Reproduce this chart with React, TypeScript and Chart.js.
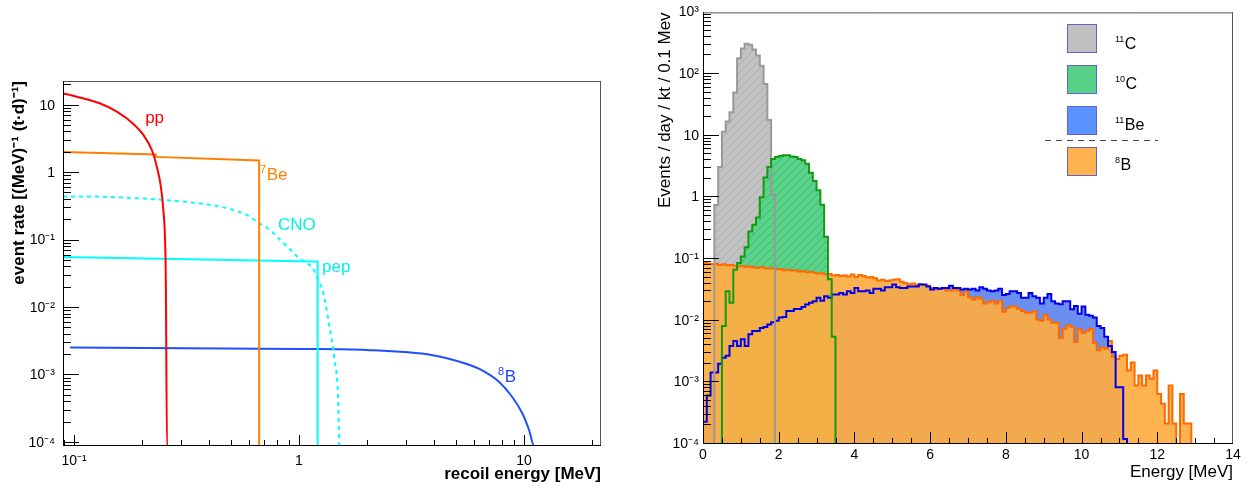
import React, { useEffect, useRef } from 'react';
import { Chart, registerables } from 'chart.js';

Chart.register(...registerables);

const FONT = "'Liberation Sans', Arial, Helvetica, sans-serif";

// ---------------- Left panel: recoil spectra (MeV, events/(MeV t d)) ----------------
const ppEnergy = [0.0893, 0.0929, 0.13, 0.1549, 0.1837, 0.2034, 0.2217, 0.2329, 0.2432, 0.2493, 0.2541, 0.2558, 0.259, 0.665];
const ppRate = [15.2, 14.75, 10.85, 8.15, 5.35, 3.68, 2.2, 1.28, 0.63, 0.288, 0.093, 0.0263, 0.00009, 0.00009];

const be7Energy = [0.0893, 0.0893, 0.231, 0.231, 0.665, 0.665, 1.21];
const be7Rate = [0.00009, 2.05, 1.89, 1.74, 1.54, 0.00009, 0.00009];

const cnoEnergy = [0.0893, 0.12, 0.15, 0.2, 0.25, 0.3, 0.4, 0.5, 0.6, 0.65, 0.75, 0.83, 0.92, 1.0, 1.1, 1.15, 1.2, 1.28, 1.37, 1.44, 1.49, 1.51];
const cnoRate = [0.45, 0.45, 0.44, 0.42, 0.4, 0.38, 0.34, 0.29, 0.23, 0.19, 0.14, 0.1, 0.072, 0.055, 0.045, 0.039, 0.029, 0.017, 0.005, 0.0017, 0.0005, 0.00009];

const pepEnergy = [0.0893, 0.0893, 1.18, 1.21, 1.21, 22];
const pepRate = [0.00009, 0.057, 0.049, 0.049, 0.00009, 0.00009];

const b8Energy = [0.096, 1.01, 1.99, 3.93, 5.53, 6.55, 7.76, 8.87, 9.83, 10.54, 11.1, 22];
const b8Rate = [0.0026, 0.00247, 0.00239, 0.002, 0.00149, 0.00118, 0.0008, 0.00048, 0.000275, 0.000155, 0.00009, 0.00009];

const leftXDecades = [-1, 0, 1];
const leftYDecades = [-4, -3, -2, -1, 0, 1];

// ---------------- Right panel: histograms, 0.1 MeV bins ----------------
const binWidth = 0.1;
const c11FirstBin = 3;
const c11Counts = [0.75, 3.1, 11.6, 17, 24, 50, 180, 260, 310, 300, 250, 200, 137, 69, 18, 1.1];
const c10FirstBin = 5;
const c10Counts = [0.0082, 0.03, 0.0195, 0.067, 0.086, 0.11, 0.155, 0.28, 0.36, 0.47, 1.0, 2.1, 3.1, 4.2, 4.5, 4.7, 4.8, 4.8, 4.6, 4.5, 4.2, 4.0, 3.5, 2.5, 1.85, 1.3, 0.76, 0.23, 0.047, 0.0055];
const be11FirstBin = 0;
const be11Counts = [
  2.3e-4, 6.1e-4, 1.45e-3, 1.45e-3, 2.0e-3, 2.5e-3, 2.7e-3, 3.9e-3, 4.7e-3, 3.9e-3,
  5.0e-3, 3.9e-3, 6.0e-3, 6.8e-3, 6.8e-3, 7.6e-3, 7.9e-3, 8.7e-3, 9.4e-3, 0.01,
  0.0113, 0.0115, 0.0144, 0.0144, 0.0154, 0.0154, 0.0166, 0.0183, 0.0195, 0.0207,
  0.0235, 0.021, 0.025, 0.0235, 0.0266, 0.0266, 0.028, 0.0266, 0.03, 0.028,
  0.034, 0.03, 0.03, 0.031, 0.028, 0.033, 0.033, 0.031, 0.035, 0.035,
  0.0385, 0.035, 0.034, 0.034, 0.036, 0.036, 0.036, 0.0385, 0.0385, 0.036,
  0.032, 0.034, 0.033, 0.034, 0.034, 0.037, 0.034, 0.034, 0.032, 0.033,
  0.032, 0.033, 0.031, 0.035, 0.033, 0.031, 0.03, 0.031, 0.033, 0.026,
  0.027, 0.03, 0.03, 0.028, 0.0235, 0.0235, 0.028, 0.025, 0.0235, 0.019,
  0.0235, 0.027, 0.0207, 0.019, 0.0185, 0.0207, 0.0207, 0.0153, 0.0173, 0.013,
  0.017, 0.0125, 0.012, 0.0113, 0.0082, 0.0076, 0.0055, 0.0039, 0.0031, 0.00083,
  0.00083, 0.00012,
];
const b8FirstBin = 0;
const b8Counts = [
  0.086, 0.085, 0.083, 0.084, 0.08, 0.082, 0.079, 0.08, 0.078, 0.076,
  0.077, 0.075, 0.076, 0.073, 0.072, 0.074, 0.071, 0.07, 0.071, 0.068,
  0.069, 0.066, 0.067, 0.065, 0.066, 0.063, 0.064, 0.061, 0.062, 0.06,
  0.058, 0.059, 0.056, 0.057, 0.054, 0.055, 0.053, 0.054, 0.052, 0.056,
  0.051, 0.055, 0.053, 0.05, 0.051, 0.049, 0.045, 0.046, 0.044, 0.045,
  0.046, 0.047, 0.043, 0.041, 0.039, 0.04, 0.038, 0.039, 0.038, 0.037,
  0.034, 0.032, 0.033, 0.033, 0.031, 0.031, 0.032, 0.031, 0.026, 0.03,
  0.024, 0.022, 0.024, 0.023, 0.019, 0.02, 0.021, 0.019, 0.021, 0.014,
  0.016, 0.017, 0.017, 0.0155, 0.0143, 0.0135, 0.0135, 0.0143, 0.0105, 0.01,
  0.0125, 0.0105, 0.0093, 0.0093, 0.0052, 0.0073, 0.0085, 0.008, 0.0045, 0.0073,
  0.0064, 0.0068, 0.0073, 0.0044, 0.0033, 0.0037, 0.0035, 0.0047, 0.0026, 0.0024,
  0.0027, 0.0028, 0.00155, 0.0021, 0.00089, 0.00129, 0.00089, 0.00129, 0.00114, 0.00155,
  0.00065, 0.00045, 0.000215, 0.00089, 0.000215, 0, 0.00065, 0.000215, 0.000215,
];
const isotopeMass = ['11', '10', '11', '8'];
const isotopeSymbol = ['C', 'C', 'Be', 'B'];
const rightYDecades = [-4, -3, -2, -1, 0, 1, 2, 3];
const rightXLabels = [0, 2, 4, 6, 8, 10, 12, 14];

// ---------------- helpers ----------------
const SUP: Record<string, string> = { '-': '\u207B', '0': '\u2070', '1': '\u00B9', '2': '\u00B2', '3': '\u00B3', '4': '\u2074', '5': '\u2075', '6': '\u2076', '7': '\u2077', '8': '\u2078', '9': '\u2079' };
const toSup = (s: string) => s.split('').map((c) => SUP[c] ?? c).join('');
const decadeLabel = (e: number) => (e === 0 ? '1' : e === 1 ? '10' : '10' + toSup(String(e)));
const decadeTick = (v: number, decades: number[]) => {
  const l = Math.log10(v);
  const e = Math.round(l);
  return Math.abs(l - e) < 1e-6 && decades.includes(e) ? decadeLabel(e) : '';
};
function logTicks(min: number, max: number) {
  const out: { value: number; major: boolean }[] = [];
  for (let d = Math.floor(Math.log10(min)); d <= Math.ceil(Math.log10(max)); d++) {
    for (let m = 1; m <= 9; m++) {
      const v = m * Math.pow(10, d);
      if (v >= min * (1 - 1e-9) && v <= max * (1 + 1e-9)) out.push({ value: v, major: m === 1 });
    }
  }
  return out;
}
const pts = (xs: number[], ys: number[]) => xs.map((x, i) => ({ x, y: ys[i] }));
const FLOOR = 1e-6;
function histPoints(first: number, counts: number[]) {
  const p: { x: number; y: number }[] = [{ x: first * binWidth, y: FLOOR }];
  counts.forEach((c, i) => p.push({ x: (first + i) * binWidth, y: c > 0 ? c : FLOOR }));
  p.push({ x: (first + counts.length) * binWidth, y: FLOOR });
  return p;
}
function makePattern(base: string, line: string) {
  const c = document.createElement('canvas');
  c.width = 8;
  c.height = 8;
  const g = c.getContext('2d')!;
  g.fillStyle = base;
  g.fillRect(0, 0, 8, 8);
  g.strokeStyle = line;
  g.lineWidth = 1;
  g.beginPath();
  g.moveTo(-1, 9);
  g.lineTo(9, -1);
  g.stroke();
  return g.createPattern(c, 'repeat')!;
}

function frameTicksPlugin(cfg: { xMajor: number; xMinor: number; yMajor: number; yMinor: number }) {
  return {
    id: 'frameTicks',
    afterDatasetsDraw(chart: any) {
      const { ctx, chartArea: a, scales } = chart;
      ctx.save();
      ctx.lineWidth = 1;
      ctx.strokeStyle = '#555';
      ctx.beginPath();
      ctx.moveTo(a.left, a.top + 0.5);
      ctx.lineTo(a.right, a.top + 0.5);
      ctx.moveTo(a.right - 0.5, a.top);
      ctx.lineTo(a.right - 0.5, a.bottom);
      ctx.stroke();
      ctx.strokeStyle = '#000';
      ctx.beginPath();
      ctx.moveTo(a.left + 0.5, a.top);
      ctx.lineTo(a.left + 0.5, a.bottom);
      ctx.moveTo(a.left, a.bottom - 0.5);
      ctx.lineTo(a.right, a.bottom - 0.5);
      for (const t of scales.x.ticks) {
        const px = Math.round(scales.x.getPixelForValue(t.value)) + 0.5;
        if (px < a.left + 1 || px > a.right - 1) continue;
        const len = t.major ? cfg.xMajor : cfg.xMinor;
        ctx.moveTo(px, a.bottom);
        ctx.lineTo(px, a.bottom - len);
      }
      for (const t of scales.y.ticks) {
        const py = Math.round(scales.y.getPixelForValue(t.value)) - 0.5;
        if (py < a.top + 1 || py > a.bottom) continue;
        const len = t.major ? cfg.yMajor : cfg.yMinor;
        ctx.moveTo(a.left, py);
        ctx.lineTo(a.left + len, py);
      }
      ctx.stroke();
      ctx.restore();
    },
  };
}

function drawSupText(ctx: CanvasRenderingContext2D, x: number, base: number, sup: string, main: string, color: string, mainSize: number, supSize: number, raise: number) {
  ctx.fillStyle = color;
  ctx.textAlign = 'left';
  ctx.textBaseline = 'alphabetic';
  let w = 0;
  if (sup) {
    ctx.font = `${supSize}px ${FONT}`;
    ctx.fillText(sup, x, base - raise);
    w = ctx.measureText(sup).width + 0.5;
  }
  ctx.font = `${mainSize}px ${FONT}`;
  ctx.fillText(main, x + w, base);
}

function leftConfig(): any {
  const curveLabels = [
    { e: 0.207, r: 5.55, sup: '', text: 'pp', color: '#ff0000' },
    { e: 0.671, r: 0.787, sup: '7', text: 'Be', color: '#ff8000' },
    { e: 0.806, r: 0.143, sup: '', text: 'CNO', color: '#00f0f0' },
    { e: 1.265, r: 0.0347, sup: '', text: 'pep', color: '#00f0f0' },
    { e: 7.67, r: 0.00081, sup: '8', text: 'B', color: '#1f3fff' },
  ];
  const labelsPlugin = {
    id: 'curveLabels',
    afterDatasetsDraw(chart: any) {
      const { ctx, scales } = chart;
      ctx.save();
      for (const l of curveLabels) {
        const x = scales.x.getPixelForValue(l.e);
        const y = scales.y.getPixelForValue(l.r);
        drawSupText(ctx, x, y, l.sup, l.text, l.color, 17, 11, 7);
      }
      ctx.restore();
    },
  };
  const line = (data: any, color: string, extra: any = {}) => ({
    data,
    showLine: true,
    borderColor: color,
    borderWidth: 2,
    pointRadius: 0,
    fill: false,
    ...extra,
  });
  return {
    type: 'scatter',
    data: {
      datasets: [
        line(pts(ppEnergy, ppRate), '#ff0000', { cubicInterpolationMode: 'monotone' }),
        line(pts(be7Energy, be7Rate), '#ff8000'),
        line(pts(cnoEnergy, cnoRate), '#00ffff', { borderDash: [4, 4], cubicInterpolationMode: 'monotone' }),
        line(pts(pepEnergy, pepRate), '#00ffff'),
        line(pts(b8Energy, b8Rate), '#1f4fff', { cubicInterpolationMode: 'monotone' }),
      ],
    },
    plugins: [frameTicksPlugin({ xMajor: 11, xMinor: 6, yMajor: 16, yMinor: 8 }), labelsPlugin],
    options: {
      responsive: false,
      maintainAspectRatio: false,
      animation: false,
      events: [],
      layout: { padding: { left: 0, right: 19, top: 81, bottom: 0 } },
      plugins: { legend: { display: false }, tooltip: { enabled: false } },
      scales: {
        x: {
          type: 'logarithmic',
          position: 'bottom',
          min: 0.0893,
          max: 22,
          afterBuildTicks: (s: any) => { s.ticks = logTicks(s.min, s.max); },
          afterFit: (s: any) => { s.height = 46; },
          grid: { display: false, drawTicks: false },
          border: { display: false },
          ticks: {
            autoSkip: false, maxRotation: 0, minRotation: 0, padding: 7, color: '#000',
            font: { family: FONT, size: 14 },
            callback: (v: any) => decadeTick(Number(v), leftXDecades),
          },
          title: {
            display: true, text: 'recoil energy [MeV]', align: 'end', color: '#000',
            font: { family: FONT, size: 17, weight: 'bold' }, padding: { top: 0, bottom: 7 },
          },
        },
        y: {
          type: 'logarithmic',
          position: 'left',
          min: 0.00009,
          max: 23.2,
          afterBuildTicks: (s: any) => { s.ticks = logTicks(s.min, s.max); },
          afterFit: (s: any) => { s.width = 63; },
          grid: { display: false, drawTicks: false },
          border: { display: false },
          ticks: {
            autoSkip: false, padding: 8, color: '#000',
            font: { family: FONT, size: 14 },
            callback: (v: any) => decadeTick(Number(v), leftYDecades),
          },
          title: {
            display: true, text: 'event rate [(MeV)\u207B\u00B9 (t\u00B7d)\u207B\u00B9]', align: 'end', color: '#000',
            font: { family: FONT, size: 17, weight: 'bold' }, padding: { top: 9, bottom: 0 },
          },
        },
      },
    },
  };
}

function rightConfig(): any {
  const grayPat = makePattern('#c2c2c2', '#adadad');
  const greenPat = makePattern('#5bd28a', '#40b56f');
  const fillColors = ['#c0c0c0', '#57d187', '#5a93ff', '#ffb34f'];
  const legendPlugin = {
    id: 'isoLegend',
    afterDraw(chart: any) {
      const { ctx } = chart;
      ctx.save();
      const tops = [24, 65, 106, 147];
      const bases = [48.5, 88.5, 129.5, 169.5];
      for (let i = 0; i < 4; i++) {
        ctx.fillStyle = fillColors[i];
        ctx.fillRect(447, tops[i], 30, 29);
        ctx.strokeStyle = '#6262d0';
        ctx.lineWidth = 1;
        ctx.strokeRect(447.5, tops[i] + 0.5, 29, 28);
        drawSupText(ctx, 495, bases[i], isotopeMass[i], isotopeSymbol[i], '#000', 16, 9, 7);
      }
      ctx.strokeStyle = '#444';
      ctx.lineWidth = 1;
      ctx.setLineDash([6, 5]);
      ctx.beginPath();
      ctx.moveTo(425, 140.5);
      ctx.lineTo(538, 140.5);
      ctx.stroke();
      ctx.restore();
    },
  };
  const hist = (first: number, counts: number[], extra: any) => ({
    data: histPoints(first, counts),
    showLine: true,
    stepped: 'before',
    pointRadius: 0,
    ...extra,
  });
  const outline = (color: string) => ({ borderColor: color, borderWidth: 2, fill: false });
  const area = (bg: any) => ({ borderColor: 'rgba(0,0,0,0)', borderWidth: 0, backgroundColor: bg, fill: 'start' });
  return {
    type: 'scatter',
    data: {
      datasets: [
        hist(c10FirstBin, c10Counts, outline('#139a13')),
        hist(c11FirstBin, c11Counts, outline('#999999')),
        hist(be11FirstBin, be11Counts, outline('#0000ee')),
        hist(b8FirstBin, b8Counts, outline('#ff6a00')),
        hist(b8FirstBin, b8Counts, area('rgba(255,172,65,0.92)')),
        hist(c10FirstBin, c10Counts, area(greenPat)),
        hist(c11FirstBin, c11Counts, area(grayPat)),
        hist(be11FirstBin, be11Counts, area('#6a8ff0')),
      ],
    },
    plugins: [frameTicksPlugin({ xMajor: 12, xMinor: 6, yMajor: 16, yMinor: 8 }), legendPlugin],
    options: {
      responsive: false,
      maintainAspectRatio: false,
      animation: false,
      events: [],
      layout: { padding: { left: 0, right: 20, top: 9, bottom: 0 } },
      plugins: { legend: { display: false }, tooltip: { enabled: false } },
      scales: {
        x: {
          type: 'linear',
          position: 'bottom',
          min: 0,
          max: 14,
          afterBuildTicks: (s: any) => {
            const t: { value: number; major: boolean }[] = [];
            for (let i = 0; i <= 28; i++) t.push({ value: i * 0.5, major: i % 4 === 0 });
            s.ticks = t;
          },
          afterFit: (s: any) => { s.height = 48; },
          grid: { display: false, drawTicks: false },
          border: { display: false },
          ticks: {
            autoSkip: false, maxRotation: 0, minRotation: 0, padding: 3, color: '#000',
            font: { family: FONT, size: 14 },
            callback: (v: any) => (rightXLabels.includes(Number(v)) ? String(v) : ''),
          },
          title: {
            display: true, text: 'Energy [MeV]', align: 'end', color: '#000',
            font: { family: FONT, size: 17 }, padding: { top: 0, bottom: 9 },
          },
        },
        y: {
          type: 'logarithmic',
          position: 'left',
          min: 1e-4,
          max: 1e3,
          afterBuildTicks: (s: any) => { s.ticks = logTicks(s.min, s.max); },
          afterFit: (s: any) => { s.width = 83; },
          grid: { display: false, drawTicks: false },
          border: { display: false },
          ticks: {
            autoSkip: false, padding: 4, color: '#000',
            font: { family: FONT, size: 14 },
            callback: (v: any) => decadeTick(Number(v), rightYDecades),
          },
          title: {
            display: true, text: 'Events / day / kt / 0.1 Mev', align: 'end', color: '#000',
            font: { family: FONT, size: 17 }, padding: { top: 35, bottom: 0 },
          },
        },
      },
    },
  };
}

export default function App() {
  const leftRef = useRef<HTMLCanvasElement>(null);
  const rightRef = useRef<HTMLCanvasElement>(null);
  useEffect(() => {
    const left = new Chart(leftRef.current!, leftConfig());
    const right = new Chart(rightRef.current!, rightConfig());
    return () => {
      left.destroy();
      right.destroy();
    };
  }, []);
  return (
    <div style={{ position: 'fixed', left: 0, top: 0, width: 1253, height: 492, background: '#fff', overflow: 'hidden' }}>
      <canvas ref={leftRef} width={620} height={492} style={{ position: 'absolute', left: 0, top: 0, width: 620, height: 492 }} />
      <canvas ref={rightRef} width={633} height={492} style={{ position: 'absolute', left: 620, top: 0, width: 633, height: 492 }} />
    </div>
  );
}
